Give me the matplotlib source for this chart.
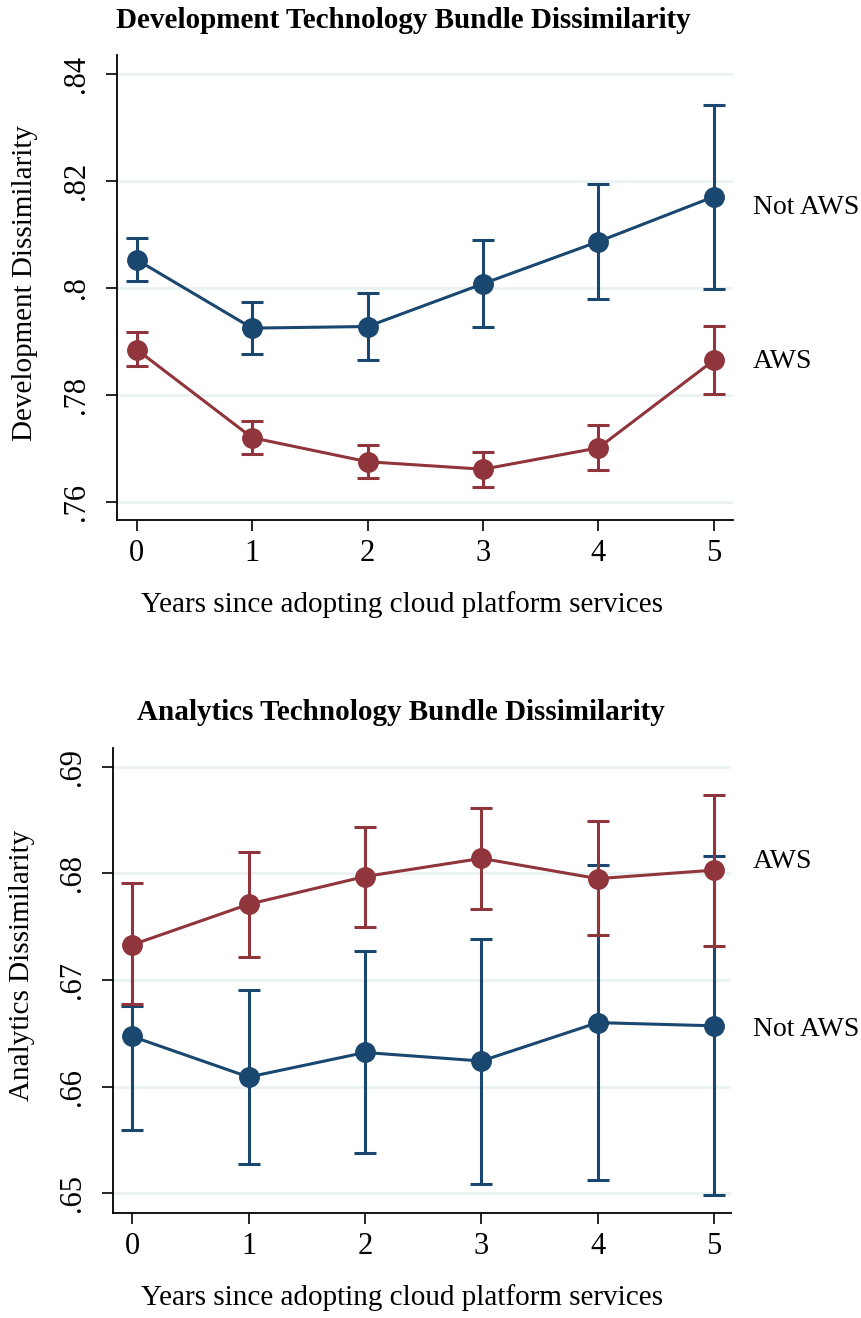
import matplotlib
matplotlib.use("Agg")
import matplotlib.pyplot as plt
import numpy as np

plt.rcParams['font.family'] = ['Liberation Serif', 'DejaVu Serif']

years = [0, 1, 2, 3, 4, 5]

# development panel
dev_aws = [0.7885, 0.7720, 0.7675, 0.7661, 0.7701, 0.7865]
dev_aws_lo = [0.7854, 0.7690, 0.7644, 0.7627, 0.7659, 0.7801]
dev_aws_hi = [0.7918, 0.7751, 0.7706, 0.7693, 0.7743, 0.7929]
dev_not = [0.8053, 0.7925, 0.7928, 0.8008, 0.8087, 0.8171]
dev_not_lo = [0.8013, 0.7877, 0.7866, 0.7927, 0.7980, 0.7999]
dev_not_hi = [0.8093, 0.7974, 0.7991, 0.8089, 0.8194, 0.8343]

# analytics panel
ana_aws = [0.6733, 0.6771, 0.6797, 0.6814, 0.6795, 0.6803]
ana_aws_lo = [0.6677, 0.6722, 0.6750, 0.6767, 0.6742, 0.6732]
ana_aws_hi = [0.6791, 0.6820, 0.6843, 0.6861, 0.6849, 0.6873]
ana_not = [0.6647, 0.6609, 0.6632, 0.6624, 0.6660, 0.6657]
ana_not_lo = [0.6559, 0.6527, 0.6538, 0.6509, 0.6512, 0.6498]
ana_not_hi = [0.6676, 0.6691, 0.6727, 0.6738, 0.6808, 0.6816]

dev_ticks = [0.76, 0.78, 0.80, 0.82, 0.84]
dev_ticklabels = ['.76', '.78', '.8', '.82', '.84']
ana_ticks = [0.65, 0.66, 0.67, 0.68, 0.69]
ana_ticklabels = ['.65', '.66', '.67', '.68', '.69']

blue = '#1a476f'
red = '#90353b'
W, H = 862, 1318

fig = plt.figure(figsize=(W / 100, H / 100), dpi=100)


def px_axes(l, t, r, b):
    return fig.add_axes([l / W, 1 - b / H, (r - l) / W, (b - t) / H])


def draw_series(ax, y, lo, hi, color):
    y = np.array(y)
    err = [y - np.array(lo), np.array(hi) - y]
    ax.errorbar(years, y, yerr=err, color=color, lw=2.2, elinewidth=2.2,
                capsize=8, capthick=2.2, marker='o', markersize=14,
                zorder=3)


def style(ax, ticks, labels, ylim, xlim):
    ax.set_ylim(*ylim)
    ax.set_xlim(*xlim)
    ax.set_yticks(ticks)
    ax.set_yticklabels(labels, rotation=90, va='center')
    ax.set_xticks(years)
    ax.tick_params(axis='both', labelsize=22, length=8, width=1.2,
                   direction='out')
    ax.tick_params(axis='y', pad=11)
    ax.tick_params(axis='x', pad=6)
    ax.grid(axis='y', color='#eaf2f3', lw=2)
    ax.set_axisbelow(True)
    for s in ['top', 'right']:
        ax.spines[s].set_visible(False)
    for s in ['left', 'bottom']:
        ax.spines[s].set_linewidth(1.3)


# top panel
ax1 = px_axes(117, 55, 733, 520)
draw_series(ax1, dev_not, dev_not_lo, dev_not_hi, blue)
draw_series(ax1, dev_aws, dev_aws_lo, dev_aws_hi, red)
style(ax1, dev_ticks, dev_ticklabels, (0.7566, 0.8436), (-0.17, 5.165))
fig.text(403 / W, 1 - 20 / H, 'Development Technology Bundle Dissimilarity',
         ha='center', va='center', fontsize=21, fontweight='bold')
fig.text(402 / W, 1 - 605 / H, 'Years since adopting cloud platform services',
         ha='center', va='center', fontsize=21)
fig.text(25 / W, 1 - 283 / H, 'Development Dissimilarity', rotation=90,
         ha='center', va='center', fontsize=21)
fig.text(753 / W, 1 - 208 / H, 'Not AWS', ha='left', va='center', fontsize=20)
fig.text(753 / W, 1 - 362 / H, 'AWS', ha='left', va='center', fontsize=20)

# bottom panel
ax2 = px_axes(113, 748, 731, 1213)
draw_series(ax2, ana_not, ana_not_lo, ana_not_hi, blue)
draw_series(ax2, ana_aws, ana_aws_lo, ana_aws_hi, red)
style(ax2, ana_ticks, ana_ticklabels, (0.64815, 0.69175), (-0.166, 5.145))
fig.text(401 / W, 1 - 713 / H, 'Analytics Technology Bundle Dissimilarity',
         ha='center', va='center', fontsize=21, fontweight='bold')
fig.text(402 / W, 1 - 1298 / H, 'Years since adopting cloud platform services',
         ha='center', va='center', fontsize=21)
fig.text(22 / W, 1 - 965 / H, 'Analytics Dissimilarity', rotation=90,
         ha='center', va='center', fontsize=21)
fig.text(753 / W, 1 - 862 / H, 'AWS', ha='left', va='center', fontsize=20)
fig.text(753 / W, 1 - 1030 / H, 'Not AWS', ha='left', va='center', fontsize=20)

fig.savefig('out.png', dpi=100)
